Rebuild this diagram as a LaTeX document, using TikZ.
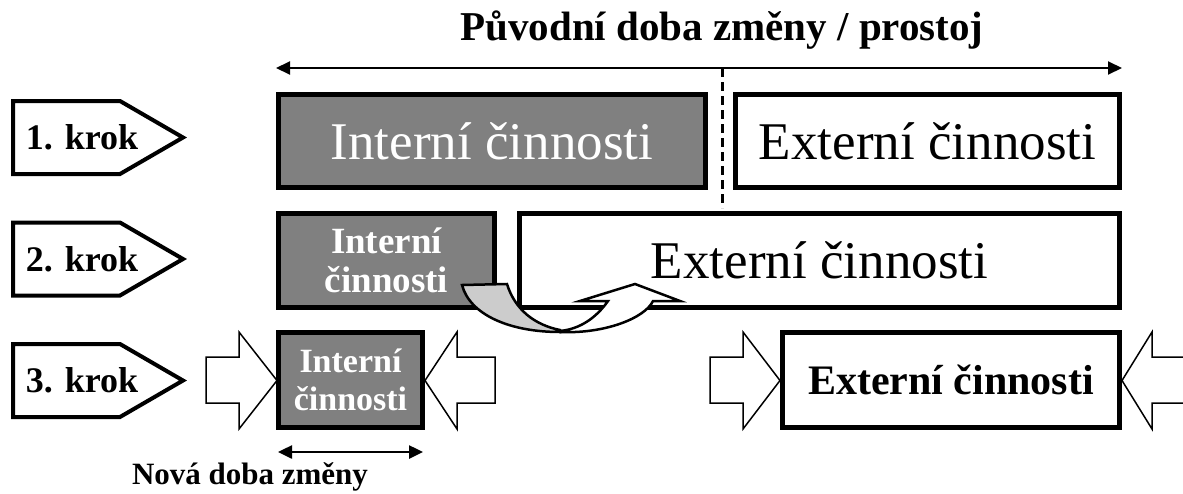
\documentclass[tikz,border=0pt]{standalone}
\usepackage{fontspec}
\setmainfont{Liberation Serif}
\usepackage{tikz}
\usetikzlibrary{arrows.meta,calc}
\definecolor{tmavasede}{RGB}{128,128,128}
\definecolor{svetlasede}{RGB}{204,204,204}

\begin{document}
\begin{tikzpicture}[
    x=1pt, y=-1pt,
    interni/.style={rectangle, draw, line width=5pt, fill=tmavasede, text=white, inner sep=0pt, align=center},
    externi/.style={rectangle, draw, line width=5pt, fill=white, inner sep=0pt, align=center},
    krok/.style={font=\fontsize{36}{40}\selectfont\bfseries},
    krokline/.style={draw, fill=white, line width=4pt, line join=miter},
    blok/.style={draw, fill=white, line width=1.5pt, line join=miter},
    doba/.style={{Triangle[length=14pt,width=13pt]}-{Triangle[length=14pt,width=13pt]}, line width=2.5pt},
    velky/.style={font=\fontsize{53}{60}\selectfont}
]
\useasboundingbox (0,0) rectangle (1183,493);

% Title and original time axis
\node[font=\fontsize{41}{48}\selectfont\bfseries, anchor=base] (nadpis) at (722,40) {Původní doba změny / prostoj};
\coordinate (osaL) at (276,68);
\coordinate (osaP) at (1122,68);
\draw[doba, line width=2pt] (osaL) -- (osaP);
\coordinate (delH) at (722,68);
\coordinate (delD) at (722,208);
\draw[line width=3pt, dash pattern=on 9pt off 5pt] (delH) -- (delD);

% Step labels
\foreach \n/\y in {1/137.5, 2/259, 3/380.5} {
  \draw[krokline] (13,\y-36.5) -- (120,\y-36.5) -- (183,\y) -- (120,\y+36.5) -- (13,\y+36.5) -- cycle;
  \node[krok] (krok\n) at (82,\y) {\n. krok};
}

% Row 1
\node[interni, velky, minimum width=427pt, minimum height=93pt] (int1) at (492,141) {Interní činnosti};
\node[externi, velky, minimum width=384pt, minimum height=93pt] (ext1) at (927.5,141) {Externí činnosti};

% Row 2
\node[interni, minimum width=216pt, minimum height=94pt, font=\fontsize{37}{39}\selectfont\bfseries] (int2) at (386.5,260.5) {Interní\\činnosti};
\node[externi, velky, minimum width=600pt, minimum height=94pt] (ext2) at (819.5,260.5) {Externí činnosti};

% Curved arrow: internal moved to external
\draw[line width=2.5pt, fill=white, line join=miter] (560,332) .. controls (605,334) and (645,318) .. (653,301) -- (680,301) -- (635,284) -- (580,301) -- (608,301) .. controls (596,318) and (580,329) .. (560,331) -- cycle;
\draw[line width=2.5pt, fill=svetlasede] (462,285) .. controls (470,315) and (510,332) .. (560,332) -- (560,330) .. controls (535,325) and (515,310) .. (507,284) -- cycle;

% Row 3
\node[interni, minimum width=144pt, minimum height=95pt, font=\fontsize{34}{38}\selectfont\bfseries] (int3) at (350.5,380) {Interní\\činnosti};
\node[externi, minimum width=337pt, minimum height=95pt, font=\fontsize{42}{48}\selectfont\bfseries] (ext3) at (951,380) {Externí činnosti};

% Squeezing block arrows
\foreach \a/\b/\c in {206/239/277, 495/457/425, 710/743/780, 1195/1152/1122} {
  \draw[blok] (\a,357) -- (\b,357) -- (\b,332) -- (\c,380.5) -- (\b,429) -- (\b,403) -- (\a,403) -- cycle;
}

% New changeover time
\coordinate (novaL) at (278,452);
\coordinate (novaP) at (423,452);
\draw[doba] (novaL) -- (novaP);
\node[font=\fontsize{31}{36}\selectfont\bfseries, anchor=base] (nova) at (250,484) {Nová doba změny};

\end{tikzpicture}
\end{document}
